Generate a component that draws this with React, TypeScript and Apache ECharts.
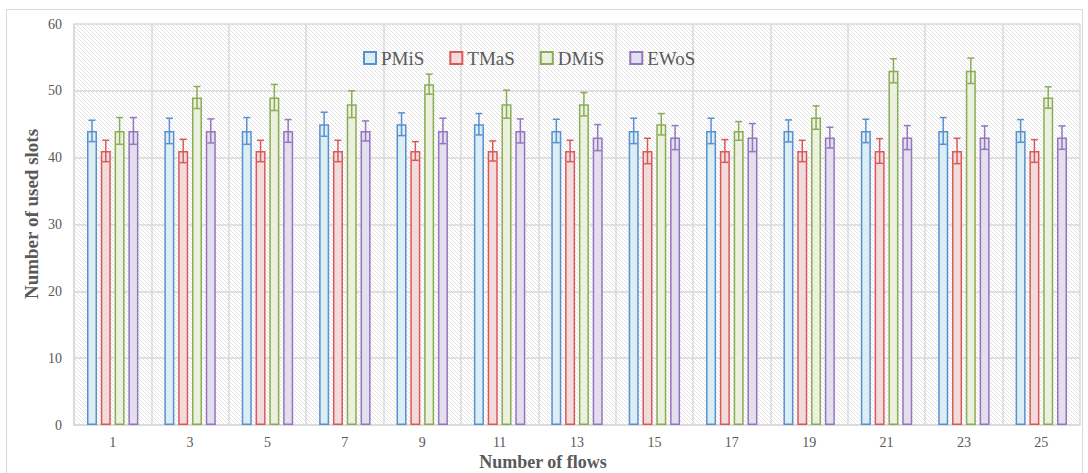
import React, { useEffect, useRef } from "react";
import * as echarts from "echarts";

const categories = ["1", "3", "5", "7", "9", "11", "13", "15", "17", "19", "21", "23", "25"];
const seriesNames = ["PMiS", "TMaS", "DMiS", "EWoS"];

const pmis = [44, 44, 44, 45, 45, 45, 44, 44, 44, 44, 44, 44, 44];
const tmas = [41, 41, 41, 41, 41, 41, 41, 41, 41, 41, 41, 41, 41];
const dmis = [44, 49, 49, 48, 51, 48, 48, 45, 44, 46, 53, 53, 49];
const ewos = [44, 44, 44, 44, 44, 44, 43, 43, 43, 43, 43, 43, 43];

const pmisErr = [1.6, 1.9, 2.0, 1.8, 1.7, 1.6, 1.75, 1.9, 1.9, 1.65, 1.75, 2.0, 1.7];
const tmasErr = [1.6, 1.75, 1.6, 1.6, 1.4, 1.5, 1.6, 1.9, 1.7, 1.6, 1.85, 1.9, 1.7];
const dmisErr = [2.0, 1.65, 1.95, 2.0, 1.5, 2.1, 1.75, 1.6, 1.4, 1.75, 1.8, 1.9, 1.6];
const ewosErr = [2.0, 1.8, 1.7, 1.5, 1.9, 1.8, 1.95, 1.8, 2.1, 1.55, 1.8, 1.75, 1.75];

const fills = ["#daeef3", "#f2dcdb", "#ebf1de", "#e4dfec"];
const strokes = ["#5b8fd0", "#d9595b", "#8aac55", "#9475bf"];

const FONT = "'Liberation Serif', 'DejaVu Serif', serif";

function makeHatch(): string {
  const c = document.createElement("canvas");
  c.width = 4;
  c.height = 4;
  const ctx = c.getContext("2d");
  if (ctx) {
    ctx.fillStyle = "#ffffff";
    ctx.fillRect(0, 0, 4, 4);
    ctx.strokeStyle = "#e2e2e2";
    ctx.lineWidth = 1;
    ctx.beginPath();
    ctx.moveTo(-1, -1);
    ctx.lineTo(5, 5);
    ctx.moveTo(-1, 3);
    ctx.lineTo(1, 5);
    ctx.moveTo(3, -1);
    ctx.lineTo(5, 1);
    ctx.stroke();
  }
  return c.toDataURL();
}

export default function App() {
  const ref = useRef<HTMLDivElement>(null);

  useEffect(() => {
    if (!ref.current) return;
    const chart = echarts.init(ref.current, undefined, { renderer: "svg" });
    const values = [pmis, tmas, dmis, ewos];
    const errs = [pmisErr, tmasErr, dmisErr, ewosErr];
    const barWidth = 10;
    const spacing = 13.8;

    const barSeries = seriesNames.map((name, i) => ({
      name,
      type: "bar",
      data: values[i],
      barWidth,
      barGap: "38%",
      itemStyle: { color: fills[i], borderColor: strokes[i], borderWidth: 1.5 },
      z: 2,
    }));

    const errSeries = seriesNames.map((name, i) => ({
      name: name + " error",
      type: "custom",
      z: 3,
      data: values[i].map((v, k) => [k, v, errs[i][k]]),
      encode: { x: 0, y: 1 },
      renderItem: (params: any, api: any) => {
        const idx = api.value(0);
        const v = api.value(1);
        const e = api.value(2);
        const top = api.coord([idx, v + e]);
        const bot = api.coord([idx, v - e]);
        const x = top[0] + (i - 1.5) * spacing;
        const cap = 3.5;
        const style = { stroke: strokes[i], lineWidth: 1.5, fill: "none" };
        return {
          type: "group",
          children: [
            { type: "line", shape: { x1: x, y1: top[1], x2: x, y2: bot[1] }, style },
            { type: "line", shape: { x1: x - cap, y1: top[1], x2: x + cap, y2: top[1] }, style },
            { type: "line", shape: { x1: x - cap, y1: bot[1], x2: x + cap, y2: bot[1] }, style },
          ],
        };
      },
    }));

    chart.setOption({
      animation: false,
      backgroundColor: "#ffffff",
      textStyle: { fontFamily: FONT },
      grid: {
        left: 74,
        right: 8,
        top: 24,
        bottom: 48,
        show: true,
        borderWidth: 0,
        backgroundColor: { image: makeHatch(), repeat: "repeat", imageWidth: 4, imageHeight: 4 } as any,
      },
      legend: {
        data: seriesNames,
        left: 363,
        top: 48,
        itemWidth: 12,
        itemHeight: 12,
        itemGap: 25,
        icon: "rect",
        padding: 0,
        textStyle: { fontFamily: FONT, fontSize: 19, color: "#595959", lineHeight: 20 },
      },
      xAxis: {
        type: "category",
        data: categories,
        axisLine: { show: true, lineStyle: { color: "#d9d9d9", width: 1.5 } },
        axisTick: { show: false },
        splitLine: { show: true, interval: 0, lineStyle: { color: "#d9d9d9", width: 1.5 } },
        axisLabel: { interval: 0, margin: 10, fontFamily: FONT, fontSize: 14, color: "#595959" },
      },
      yAxis: {
        type: "value",
        min: 0,
        max: 60,
        interval: 10,
        axisLine: { show: true, lineStyle: { color: "#d9d9d9", width: 1.5 } },
        axisTick: { show: false },
        splitLine: { show: true, lineStyle: { color: "#d9d9d9", width: 1.5 } },
        axisLabel: { margin: 12, fontFamily: FONT, fontSize: 14, color: "#595959" },
      },
      graphic: [
        {
          type: "rect",
          shape: { x: 6.5, y: 9.5, width: 1076, height: 480 },
          style: { fill: "none", stroke: "#d9d9d9", lineWidth: 1 },
          silent: true,
          z: -10,
        },
        {
          type: "text",
          x: 31,
          y: 214,
          rotation: Math.PI / 2,
          style: {
            text: "Number of used slots",
            font: "bold 19px " + FONT,
            fill: "#595959",
            textAlign: "center",
            textVerticalAlign: "middle",
          },
        },
        {
          type: "text",
          x: 543,
          y: 462,
          style: {
            text: "Number of flows",
            font: "bold 18px " + FONT,
            fill: "#595959",
            textAlign: "center",
            textVerticalAlign: "middle",
          },
        },
      ],
      series: [...barSeries, ...errSeries],
    });

    return () => chart.dispose();
  }, []);

  return (
    <div
      ref={ref}
      style={{ position: "fixed", left: 0, top: 0, width: 1088, height: 473 }}
    />
  );
}
